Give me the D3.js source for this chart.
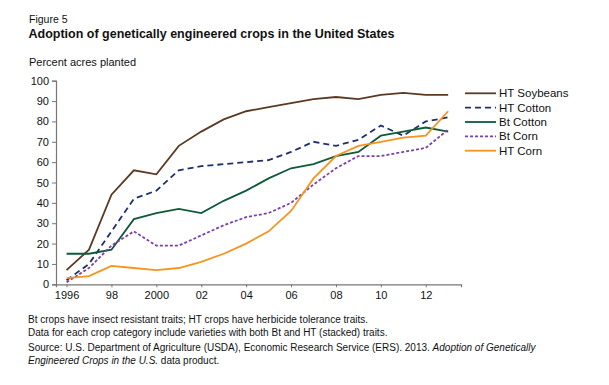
<!DOCTYPE html>
<html>
<head>
<meta charset="utf-8">
<script src="https://cdn.jsdelivr.net/npm/d3@7"></script>
<style>
  body { margin: 0; background: #fff; }
  svg text { font-family: "Liberation Sans", Arial, sans-serif; fill: #111; }
</style>
</head>
<body>
<div id="chartArea"></div>
<script>
var years = [1996, 1997, 1998, 1999, 2000, 2001, 2002, 2003, 2004, 2005, 2006, 2007, 2008, 2009, 2010, 2011, 2012, 2013];

var htSoybeans = [7, 17, 44, 56, 54, 68, 75, 81, 85, 87, 89, 91, 92, 91, 93, 94, 93, 93];
var htCotton   = [2, 10, 26, 42, 46, 56, 58, 59, 60, 61, 65, 70, 68, 71, 78, 73, 80, 82];
var btCotton   = [15, 15, 17, 32, 35, 37, 35, 41, 46, 52, 57, 59, 63, 65, 73, 75, 77, 75];
var btCorn     = [1, 8, 19, 26, 19, 19, 24, 29, 33, 35, 40, 49, 57, 63, 63, 65, 67, 76];
var htCorn     = [3, 4, 9, 8, 7, 8, 11, 15, 20, 26, 36, 52, 63, 68, 70, 72, 73, 85];

var seriesNames = ["HT Soybeans", "HT Cotton", "Bt Cotton", "Bt Corn", "HT Corn"];
var seriesValues = [htSoybeans, htCotton, btCotton, btCorn, htCorn];

var xTicks = [1996, 1998, 2000, 2002, 2004, 2006, 2008, 2010, 2012];
var xTickLabels = ["1996", "98", "2000", "02", "04", "06", "08", "10", "12"];
var yTicks = [0, 10, 20, 30, 40, 50, 60, 70, 80, 90, 100];

var colors = ["#5b3a24", "#1e2f6b", "#0f5a3a", "#7d3fae", "#f7941d"];
var dashes = [null, "6,4", null, "3,2", null];

var width = 609, height = 385;

var svg = d3.select("#chartArea").append("svg")
  .attr("width", width)
  .attr("height", height);

var x = d3.scaleLinear()
  .domain([1995.53, 2013.57])
  .range([56, 461]);

var y = d3.scaleLinear()
  .domain([0, 100])
  .range([284.3, 80.7]);

// titles
svg.append("text")
  .attr("x", 29).attr("y", 22.7)
  .style("font-size", "10.5px")
  .text("Figure 5");

svg.append("text")
  .attr("x", 28.5).attr("y", 37.5)
  .style("font-size", "12.5px")
  .style("font-weight", "bold")
  .text("Adoption of genetically engineered crops in the United States");

svg.append("text")
  .attr("x", 29).attr("y", 66)
  .style("font-size", "11px")
  .text("Percent acres planted");

// axes
var yAxis = d3.axisLeft(y)
  .tickValues(yTicks)
  .tickSize(4)
  .tickPadding(3);

var gy = svg.append("g")
  .attr("transform", "translate(56,0)")
  .call(yAxis);

var xAxis = d3.axisBottom(x)
  .tickValues(xTicks)
  .tickSize(3)
  .tickPadding(4)
  .tickFormat(function (d, i) { return xTickLabels[i]; });

var gx = svg.append("g")
  .attr("transform", "translate(0," + y(0) + ")")
  .call(xAxis);

[gx, gy].forEach(function (g) {
  g.select(".domain").attr("stroke", "#777").attr("stroke-width", 1.2);
  g.selectAll(".tick line").attr("stroke", "#777");
  g.selectAll(".tick text")
    .style("font-size", "11px")
    .style("font-family", "Liberation Sans, Arial, sans-serif")
    .attr("fill", "#111");
});

// lines
var line = d3.line()
  .x(function (d, i) { return x(years[i]); })
  .y(function (d) { return y(d); });

seriesValues.forEach(function (vals, i) {
  svg.append("path")
    .datum(vals)
    .attr("fill", "none")
    .attr("stroke", colors[i])
    .attr("stroke-width", 1.8)
    .attr("stroke-dasharray", dashes[i])
    .attr("d", line);
});

// legend
var legend = svg.append("g").attr("transform", "translate(465,93.3)");
seriesNames.forEach(function (name, i) {
  var row = legend.append("g").attr("transform", "translate(0," + (i * 14.35) + ")");
  row.append("line")
    .attr("x1", 0).attr("x2", 31)
    .attr("stroke", colors[i])
    .attr("stroke-width", 1.8)
    .attr("stroke-dasharray", dashes[i]);
  row.append("text")
    .attr("x", 34).attr("dy", "0.35em")
    .style("font-size", "11.5px")
    .text(name);
});

// notes
var notes = svg.append("g").style("font-size", "10px");
notes.append("text").attr("x", 28).attr("y", 323)
  .text("Bt crops have insect resistant traits; HT crops have herbicide tolerance traits.");
notes.append("text").attr("x", 28).attr("y", 335.5)
  .text("Data for each crop category include varieties with both Bt and HT (stacked) traits.");
var src = notes.append("text").attr("x", 28).attr("y", 351);
src.append("tspan").text("Source: U.S. Department of Agriculture (USDA), Economic Research Service (ERS). 2013. ");
src.append("tspan").style("font-style", "italic").text("Adoption of Genetically");
var src2 = notes.append("text").attr("x", 28).attr("y", 363.5);
src2.append("tspan").style("font-style", "italic").text("Engineered Crops in the U.S.");
src2.append("tspan").text(" data product.");
</script>
</body>
</html>
